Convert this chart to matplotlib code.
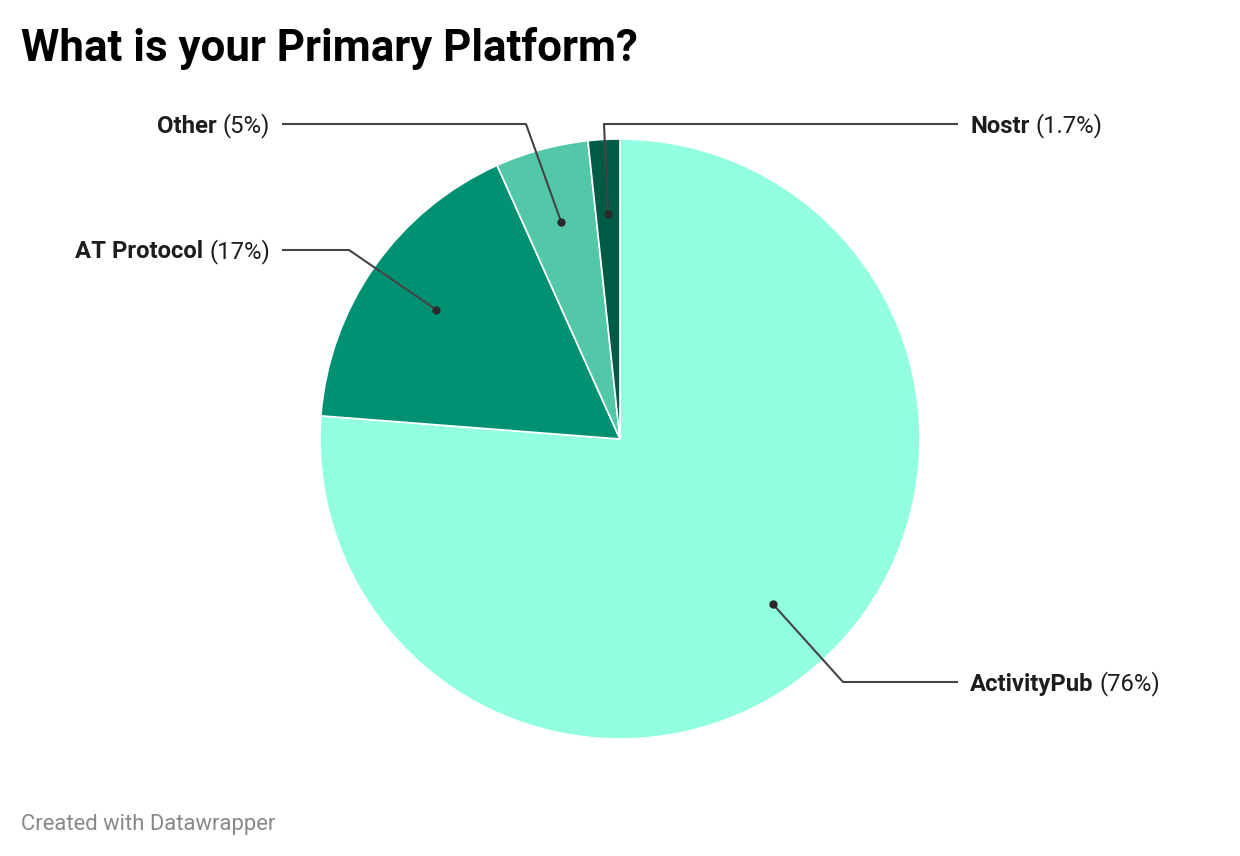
import matplotlib
matplotlib.use("Agg")
import matplotlib.pyplot as plt
import numpy as np

# data
platforms = ["ActivityPub", "AT Protocol", "Other", "Nostr"]
shares = [76.0, 17.0, 5.0, 1.7]
share_labels = ["76%", "17%", "5%", "1.7%"]
colors = ["#91ffe0", "#009173", "#52c8a8", "#005b45"]

# label layout: (elbow x, elbow y, line end x, text side)
layout = {
    "ActivityPub": (843, 682, 958, "right"),
    "AT Protocol": (349, 250, 282, "left"),
    "Other": (526, 124, 282, "left"),
    "Nostr": (604, 124, 958, "right"),
}

W, H = 1240, 856
fig = plt.figure(figsize=(W / 100, H / 100), dpi=100)
ax = fig.add_axes([0, 0, 1, 1])

cx, cy, r = 620, 439, 300
wedges, _ = ax.pie(shares, colors=colors, startangle=-90, counterclock=True,
                   center=(cx, cy), radius=r, normalize=True,
                   wedgeprops=dict(edgecolor="white", linewidth=1.2))
ax.set_xlim(0, W)
ax.set_ylim(H, 0)
ax.set_aspect("equal")
ax.axis("off")

renderer = fig.canvas.get_renderer()
inv = ax.transData.inverted()
txt_col = "#1d1d1d"
fs = 17.2

for w, name, lab in zip(wedges, platforms, share_labels):
    mid = np.deg2rad((w.theta1 + w.theta2) / 2)
    dx = cx + 0.75 * r * np.cos(mid)
    dy = cy + 0.75 * r * np.sin(mid)
    ex, ey, lx, side = layout[name]
    ax.plot([dx, ex, lx], [dy, ey, ey], color="#444444", lw=1.5,
            solid_capstyle="butt", zorder=3)
    ax.plot(dx, dy, "o", color="#2a2a2a", ms=5, zorder=4)
    base = ey + 8.5
    if side == "right":
        t1 = ax.text(lx + 12, base, name, fontsize=fs, fontweight="bold",
                     family="Roboto", color=txt_col, ha="left", va="baseline")
        bb = t1.get_window_extent(renderer)
        x1 = inv.transform((bb.x1, bb.y0))[0]
        ax.text(x1 + 6, base, "(" + lab + ")", fontsize=fs, family="Roboto",
                color=txt_col, ha="left", va="baseline")
    else:
        t2 = ax.text(lx - 12, base, "(" + lab + ")", fontsize=fs,
                     family="Roboto", color=txt_col, ha="right", va="baseline")
        bb = t2.get_window_extent(renderer)
        x0 = inv.transform((bb.x0, bb.y0))[0]
        ax.text(x0 - 6, base, name, fontsize=fs, fontweight="bold",
                family="Roboto", color=txt_col, ha="right", va="baseline")

ax.text(21, 61, "What is your Primary Platform?", fontsize=31.6,
        fontweight="bold", family="Roboto", color="#000000",
        ha="left", va="baseline")
ax.text(21, 830, "Created with Datawrapper", fontsize=15.8, family="Roboto",
        color="#888888", ha="left", va="baseline")

fig.savefig("out.png", dpi=100, facecolor="white")
